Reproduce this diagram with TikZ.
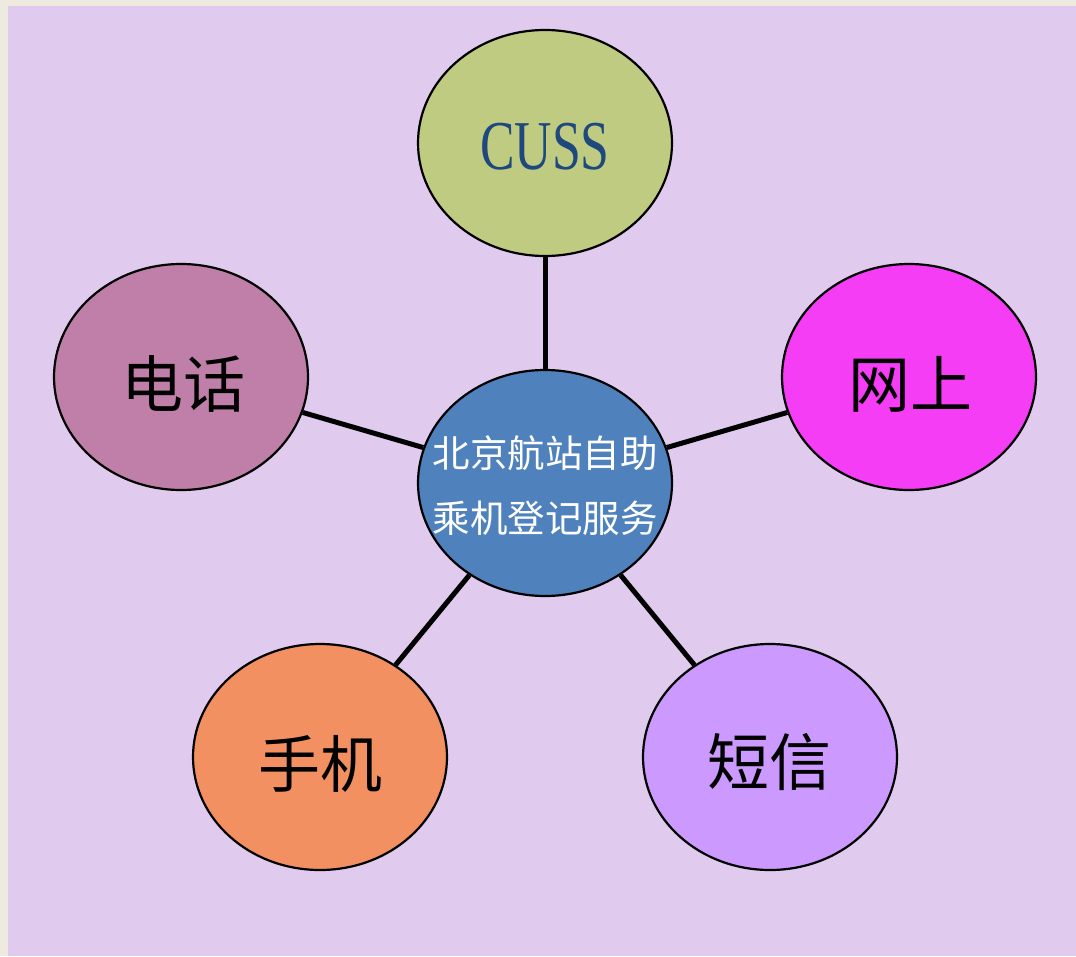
\documentclass[tikz,border=0pt]{standalone}
\usepackage{fontspec}
\setmainfont{Liberation Serif}
\newfontfamily\cjk{Noto Sans CJK SC}
\usetikzlibrary{shapes.geometric}
\definecolor{beigebg}{HTML}{EEEAE0}
\definecolor{purplebg}{HTML}{E0CAEE}
\definecolor{cussfill}{HTML}{C0CB82}
\definecolor{centerfill}{HTML}{4F81BD}
\definecolor{phonefill}{HTML}{BF7FA8}
\definecolor{webfill}{HTML}{F53DF5}
\definecolor{mobilefill}{HTML}{F29061}
\definecolor{smsfill}{HTML}{CC99FF}
\definecolor{cusstext}{HTML}{1F497D}
\tikzset{
  bubble/.style={ellipse, draw=black, line width=2.2pt, minimum width=254pt, minimum height=226pt, inner sep=0pt},
  bigtext/.style={font=\cjk\fontsize{62pt}{66pt}\selectfont, text=black, inner sep=0pt},
  link/.style={line width=5pt, black}
}
\begin{document}
\begin{tikzpicture}[x=1pt,y=-1pt]
\fill[beigebg] (0,0) rectangle (1076,956);
\fill[purplebg] (8,6) rectangle (1076,956);
\useasboundingbox (0,0) rectangle (1076,956);
\node[bubble, fill=cussfill] (cuss) at (545,143) {};
\node[bubble, fill=centerfill] (hub) at (545,483) {};
\node[bubble, fill=phonefill] (phone) at (181,377) {};
\node[bubble, fill=webfill] (web) at (909,377) {};
\node[bubble, fill=mobilefill] (mobile) at (320,757) {};
\node[bubble, fill=smsfill] (sms) at (770,757) {};
\draw[link] (hub) -- (cuss);
\draw[link] (hub) -- (phone);
\draw[link] (hub) -- (web);
\draw[link] (hub) -- (mobile);
\draw[link] (hub) -- (sms);
\node[inner sep=0pt, text=cusstext, font=\fontsize{70pt}{72pt}\selectfont] (cussT) at (545,147) {\scalebox{0.74}[1]{CUSS}};
\node[inner sep=0pt, text=white, align=center, font=\cjk\fontsize{37.5pt}{65pt}\selectfont] (hubT) at (545,486) {北京航站自助\\乘机登记服务};
\node[bigtext] (phoneT) at (183,384) {电话};
\node[bigtext] (webT) at (910,384) {网上};
\node[bigtext] (mobileT) at (320,764) {手机};
\node[bigtext] (smsT) at (769,762) {短信};
\end{tikzpicture}
\end{document}
